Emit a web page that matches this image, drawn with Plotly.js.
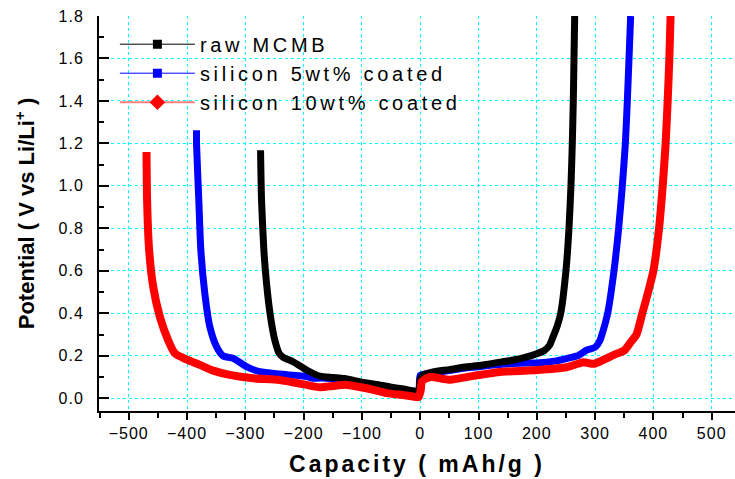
<!DOCTYPE html>
<html>
<head>
<meta charset="utf-8">
<script src="https://cdn.plot.ly/plotly-3.0.1.min.js"></script>
<style>
html,body{margin:0;padding:0;background:#fff;}
#chart{width:735px;height:479px;}
.xtick text,.ytick text{letter-spacing:1px;}
.legendtext{letter-spacing:3.7px;}
.xtitle{letter-spacing:3px;}
</style>
</head>
<body>
<div id="chart"></div>
<script>
// Series names
const seriesNames = ["raw MCMB", "silicon 5wt% coated", "silicon 10wt% coated"];

// raw MCMB: discharge (negative capacity) then charge (positive capacity)
const mcmbCapacity = [-273.9, -272.2, -268.2, -263.6, -256.8, -249.4, -242, -235, -218, -195, -172, -150, -130, -100, -70, -45, -25, -10, -3,
  0, 5, 22, 50, 80, 110, 137, 160, 183, 200, 213, 222, 228, 235, 241, 250, 255.2, 258.6, 260.9, 262.6, 263.8, 265];
const mcmbPotential = [1.168, 0.933, 0.698, 0.541, 0.384, 0.274, 0.212, 0.193, 0.172, 0.133, 0.104, 0.098, 0.093, 0.076, 0.063, 0.05, 0.042, 0.034, 0.03,
  0.09, 0.11, 0.124, 0.135, 0.148, 0.158, 0.17, 0.18, 0.195, 0.21, 0.225, 0.25, 0.29, 0.34, 0.4, 0.6, 0.8, 1.0, 1.2, 1.4, 1.6, 1.8];

// silicon 5wt% coated
const si5Capacity = [-383.7, -383.7, -379.8, -376.3, -369.5, -360.9, -349.4, -338, -321, -298, -275, -241, -195, -184, -170, -130, -100, -60, -30, -8, -2,
  0, 20, 50, 80, 110, 140, 170, 205, 230, 251, 270, 285, 300, 308, 314, 321.6, 332.4, 340.4, 346.7, 351.9, 355.3, 358.2, 361];
const si5Potential = [1.262, 1.199, 0.933, 0.698, 0.494, 0.337, 0.243, 0.199, 0.188, 0.149, 0.125, 0.114, 0.102, 0.094, 0.095, 0.085, 0.07, 0.055, 0.04, 0.025, 0.01,
  0.108, 0.118, 0.13, 0.143, 0.152, 0.16, 0.165, 0.167, 0.175, 0.187, 0.2, 0.226, 0.24, 0.27, 0.32, 0.4, 0.6, 0.8, 1.0, 1.2, 1.4, 1.6, 1.8];

// silicon 10wt% coated
const si10Capacity = [-469.5, -468.5, -465, -458, -446.7, -432.5, -421, -401, -378, -355, -326.6, -286.6, -240.8, -195, -172, -150, -126, -92, -57.7, -30, -12, -3,
  1, 3, 17, 51, 97, 137, 194, 251, 280, 297, 310, 337, 350, 360, 371, 381, 391, 400, 409.7, 416, 421, 424.5, 427.4, 429.5];
const si10Potential = [1.16, 0.933, 0.698, 0.525, 0.384, 0.274, 0.212, 0.183, 0.157, 0.13, 0.11, 0.094, 0.086, 0.063, 0.052, 0.058, 0.063, 0.047, 0.024, 0.015, 0.008, 0.005,
  0.04, 0.08, 0.1, 0.087, 0.108, 0.124, 0.132, 0.146, 0.17, 0.162, 0.175, 0.21, 0.225, 0.26, 0.3, 0.4, 0.5, 0.6, 0.8, 1.0, 1.2, 1.4, 1.6, 1.8];

const xTickVals = [-500, -400, -300, -200, -100, 0, 100, 200, 300, 400, 500];
const yTickVals = [0.0, 0.2, 0.4, 0.6, 0.8, 1.0, 1.2, 1.4, 1.6, 1.8];

const colors = {black: "#000000", blue: "#0000ff", red: "#ff0000", lightRed: "#ff8080"};
const FONT = "Arial, 'Liberation Sans', sans-serif";

const traces = [
  {x: si5Capacity, y: si5Potential, type: "scatter", mode: "lines", line: {color: colors.blue, width: 7, shape: "spline", smoothing: 0.6}, showlegend: false, hoverinfo: "skip"},
  {x: mcmbCapacity, y: mcmbPotential, type: "scatter", mode: "lines", line: {color: colors.black, width: 7, shape: "spline", smoothing: 0.6}, showlegend: false, hoverinfo: "skip"},
  {x: si10Capacity, y: si10Potential, type: "scatter", mode: "lines", line: {color: colors.red, width: 8, shape: "spline", smoothing: 0.6}, showlegend: false, hoverinfo: "skip"},
  // legend entries
  {x: [null], y: [null], name: seriesNames[0], type: "scatter", mode: "lines+markers", line: {color: colors.black, width: 1}, marker: {symbol: "square", size: 9, color: colors.black}},
  {x: [null], y: [null], name: seriesNames[1], type: "scatter", mode: "lines+markers", line: {color: colors.blue, width: 1}, marker: {symbol: "square", size: 9, color: colors.blue}},
  {x: [null], y: [null], name: seriesNames[2], type: "scatter", mode: "lines+markers", line: {color: colors.lightRed, width: 2}, marker: {symbol: "diamond", size: 12, color: colors.red}}
];

const gridCommon = {showgrid: true, gridcolor: "#00ffff", gridwidth: 1, griddash: "dot", zeroline: false};

const layout = {
  width: 735, height: 479,
  margin: {l: 99, r: 0, t: 16, b: 68},
  paper_bgcolor: "#ffffff", plot_bgcolor: "#ffffff",
  font: {family: FONT, color: "#000"},
  showlegend: true,
  legend: {x: 0.025, y: 0.978, xanchor: "left", yanchor: "top", bgcolor: "rgba(0,0,0,0)", itemwidth: 75,
           font: {family: FONT, size: 20, color: "#000"}, tracegroupgap: 0},
  xaxis: Object.assign({}, gridCommon, {
    range: [-551, 540], tickvals: xTickVals, ticks: "outside", ticklen: 7, tickwidth: 2, tickcolor: "#000",
    showline: true, linecolor: "#000", linewidth: 2, mirror: false,
    tickfont: {family: FONT, size: 16, color: "#000"},
    minor: {dtick: 50, tick0: 0, ticks: "outside", ticklen: 5, tickwidth: 2, tickcolor: "#000", showgrid: false},
    title: {text: "Capacity ( mAh/g )", font: {family: FONT, size: 23, color: "#000", weight: "bold"}, standoff: 15}
  }),
  yaxis: Object.assign({}, gridCommon, {
    range: [-0.06, 1.8], tickvals: yTickVals, ticktext: yTickVals.map(v => v.toFixed(1)),
    ticks: "inside", ticklen: 10, tickwidth: 2, tickcolor: "#000",
    showline: true, linecolor: "#000", linewidth: 2, mirror: false,
    tickfont: {family: FONT, size: 16, color: "#000"}, ticklabelstandoff: 10,
    minor: {dtick: 0.1, tick0: 0, ticks: "inside", ticklen: 5, tickwidth: 2, tickcolor: "#000", showgrid: false},
    title: {text: "Potential ( V vs Li/Li<sup>+</sup> )", font: {family: FONT, size: 22, color: "#000", weight: "bold"}, standoff: 18}
  }),
  xaxis2: {overlaying: "x", side: "top", range: [-551, 540], tickvals: xTickVals, showticklabels: false,
    ticks: "inside", ticklen: 7, tickwidth: 2, tickcolor: "#000", showline: true, linecolor: "#000", linewidth: 2,
    showgrid: false, zeroline: false},
  yaxis2: {overlaying: "y", side: "right", range: [-0.06, 1.8], tickvals: yTickVals, showticklabels: false,
    ticks: "inside", ticklen: 6, tickwidth: 2, tickcolor: "#000", showline: true, linecolor: "#000", linewidth: 2,
    showgrid: false, zeroline: false}
};

Plotly.newPlot("chart", traces, layout, {displayModeBar: false, staticPlot: true});
</script>
</body>
</html>
